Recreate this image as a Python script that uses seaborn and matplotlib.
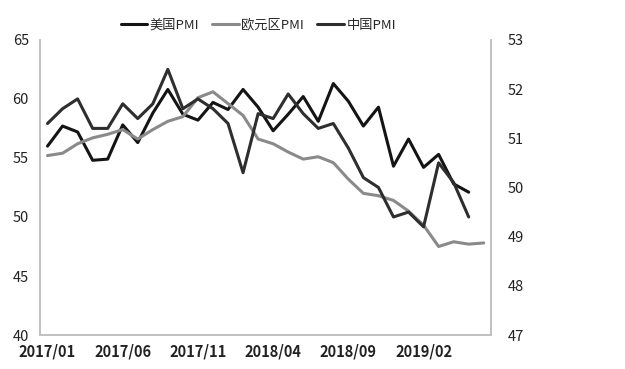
import pandas as pd
import seaborn as sns
import matplotlib.pyplot as plt

# Monthly PMI values, 2017/01 - 2019/06
months = pd.period_range('2017-01', '2019-06', freq='M').strftime('%Y/%m').tolist()

us_pmi = [56.0, 57.7, 57.2, 54.8, 54.9, 57.8, 56.3, 58.8, 60.8, 58.7, 58.2, 59.7,
          59.1, 60.8, 59.3, 57.3, 58.7, 60.2, 58.1, 61.3, 59.8, 57.7, 59.3, 54.3,
          56.6, 54.2, 55.3, 52.8, 52.1, None]
euro_pmi = [55.2, 55.4, 56.2, 56.7, 57.0, 57.4, 56.6, 57.4, 58.1, 58.5, 60.1, 60.6,
            59.6, 58.6, 56.6, 56.2, 55.5, 54.9, 55.1, 54.6, 53.2, 52.0, 51.8, 51.4,
            50.5, 49.3, 47.5, 47.9, 47.7, 47.8]
china_pmi = [51.3, 51.6, 51.8, 51.2, 51.2, 51.7, 51.4, 51.7, 52.4, 51.6, 51.8, 51.6,
             51.3, 50.3, 51.5, 51.4, 51.9, 51.5, 51.2, 51.3, 50.8, 50.2, 50.0, 49.4,
             49.5, 49.2, 50.5, 50.1, 49.4, None]

df = pd.DataFrame({'month': months, 'us': us_pmi, 'euro': euro_pmi, 'china': china_pmi},
                  dtype=object)
df['pos'] = range(len(months))
for c in ['us', 'euro', 'china']:
    df[c] = pd.to_numeric(df[c])

sns.set_style('white')
plt.rcParams['font.family'] = ['Noto Sans CJK SC', 'DejaVu Sans']

fig, ax = plt.subplots(figsize=(6.25, 3.69), dpi=100)
fig.subplots_adjust(left=0.064, right=0.786, top=0.892, bottom=0.092)
ax2 = ax.twinx()

sns.lineplot(x='pos', y='us', data=df, ax=ax, color='#141414', lw=2.2, label='美国PMI', legend=False)
sns.lineplot(x='pos', y='euro', data=df, ax=ax, color='#8a8a8a', lw=2.2, label='欧元区PMI', legend=False)
sns.lineplot(x='pos', y='china', data=df, ax=ax2, color='#2e2e2e', lw=2.2, label='中国PMI', legend=False)

ax.set_ylim(40, 65)
ax2.set_ylim(47, 53)
ax.set_yticks(range(40, 66, 5))
ax2.set_yticks(range(47, 54))
ax.set_xlim(-0.5, len(months) - 0.5)
ax.set_xticks(df['pos'][::5])
ax.set_xticklabels(df['month'][::5], fontweight='bold')

for a in (ax, ax2):
    a.set_xlabel('')
    a.set_ylabel('')
    a.tick_params(length=0, labelsize=10.5, colors='#222222')
    for s in a.spines.values():
        s.set_color('#c0c0c0')
        s.set_linewidth(1.2)
    a.spines['top'].set_visible(False)
ax.tick_params(axis='x', pad=6)
ax.tick_params(axis='y', pad=8)
ax2.tick_params(axis='y', pad=12)

h1, l1 = ax.get_legend_handles_labels()
h2, l2 = ax2.get_legend_handles_labels()
fig.legend(h1 + h2, l1 + l2, loc='center', bbox_to_anchor=(0.413, 0.932), ncol=3,
           frameon=False, fontsize=9.5, handlelength=2.0, handletextpad=0.2, columnspacing=1.0)

plt.savefig('out.png', dpi=100)
